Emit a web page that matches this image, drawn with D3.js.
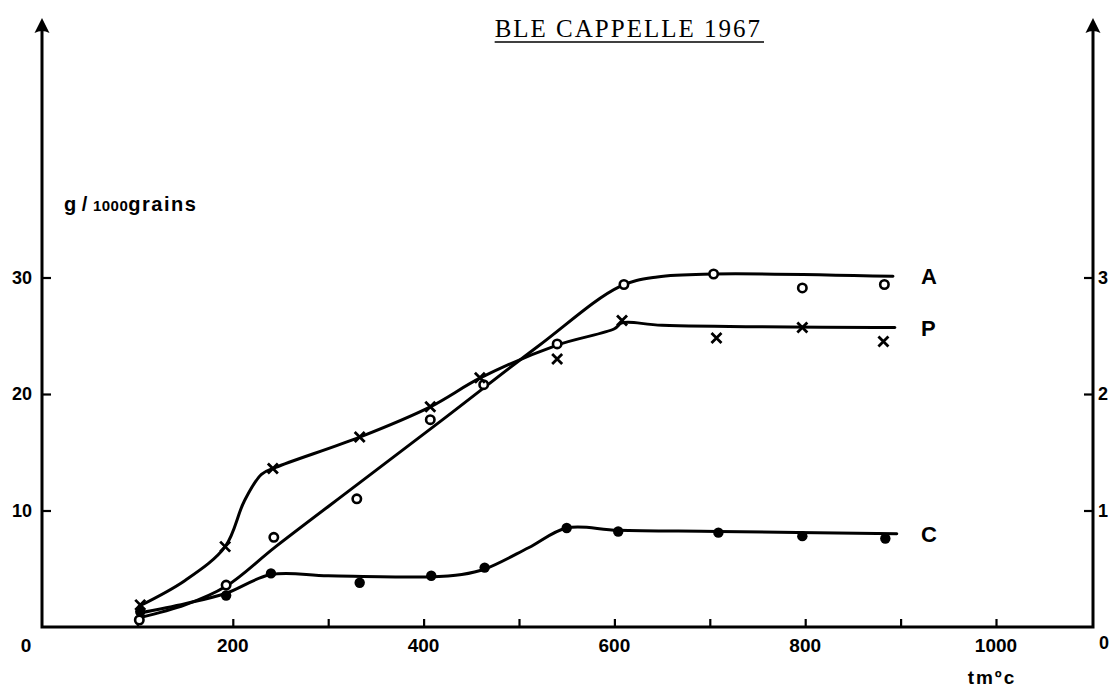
<!DOCTYPE html>
<html>
<head>
<meta charset="utf-8">
<script src="https://cdn.jsdelivr.net/npm/d3@7"></script>
<style>
  body { margin: 0; background: #fff; }
  svg { display: block; }
  .lbl { font-family: "Liberation Sans", Arial, sans-serif; font-weight: bold; fill: #000; }
</style>
</head>
<body>
<svg id="chart" width="1112" height="689"></svg>
<script>
// Axis ticks and labels
const xTicks = [100, 200, 300, 400, 500, 600, 700, 800, 900, 1000];
const xTickLabels = [200, 400, 600, 800, 1000];
const yTicksLeft = [10, 20, 30];
const yTicksRight = [1, 2, 3];

// Measured points: [sum of temperatures (tm °C), g / 1000 grains]
const obsA = [[102, 0.6], [193, 3.6], [243, 7.7], [330, 11.0], [407, 17.8], [463, 20.8], [540, 24.3], [610, 29.4], [704, 30.3], [797, 29.1], [883, 29.4]];
const obsP = [[103, 1.9], [192, 6.9], [242, 13.6], [333, 16.3], [407, 18.9], [459, 21.4], [540, 23.0], [608, 26.3], [707, 24.8], [797, 25.7], [882, 24.5]];
const obsC = [[103, 1.3], [193, 2.7], [240, 4.6], [333, 3.8], [408, 4.4], [464, 5.1], [550, 8.5], [604, 8.2], [709, 8.1], [797, 7.8], [884, 7.6]];

// Hand-fitted curves through each series
const fitA = [[102, 0.8], [150, 1.9], [193, 3.5], [245, 6.9], [330, 12.2], [420, 17.8], [520, 24.1], [605, 29.2], [645, 30.05], [704, 30.3], [892, 30.1]];
const fitP = [[102, 1.8], [150, 4.0], [192, 6.9], [212, 10.8], [230, 13.1], [245, 13.7], [333, 16.3], [407, 18.9], [460, 21.4], [540, 24.2], [600, 25.6], [608, 26.1], [650, 25.9], [894, 25.7]];
const fitC = [[102, 1.2], [150, 2.0], [193, 2.9], [240, 4.5], [300, 4.4], [405, 4.3], [440, 4.5], [465, 5.0], [510, 6.8], [550, 8.5], [604, 8.3], [709, 8.2], [896, 8.0]];

const seriesNames = ["A", "P", "C"];

const svg = d3.select("#chart");

const x = d3.scaleLinear().domain([0, 1100]).range([42, 1091.4]);
const y = d3.scaleLinear().domain([0, 30]).range([627, 277.5]);
const yR = d3.scaleLinear().domain([0, 3]).range([627, 277.5]);

const x0 = x(0), xEnd = 1093, yTop = 18;

// Axis frame: left axis, baseline, right axis
svg.append("path")
  .attr("d", `M${x0},${yTop + 10}V${y(0)}H${xEnd}V${yTop + 10}`)
  .attr("fill", "none").attr("stroke", "#000").attr("stroke-width", 3);

// Arrow heads on the two vertical axes
[x0, xEnd].forEach(ax => {
  svg.append("path")
    .attr("d", `M${ax},${yTop} L${ax + 7.5},${yTop + 15} Q${ax},${yTop + 11} ${ax - 7.5},${yTop + 15} Z`)
    .attr("fill", "#000");
});

// Bottom axis ticks (pointing up)
const xAxis = d3.axisBottom(x).tickValues(xTicks).tickSize(-8).tickFormat("");
svg.append("g").attr("transform", `translate(0,${y(0)})`).call(xAxis)
  .call(g => g.select(".domain").remove())
  .call(g => g.selectAll(".tick line").attr("stroke-width", 2.2));

svg.append("g").selectAll("text").data(xTickLabels).join("text")
  .attr("class", "lbl").attr("x", d => x(d)).attr("y", y(0) + 25)
  .attr("text-anchor", "middle").attr("font-size", 19).text(d => d);
svg.append("text").attr("class", "lbl").attr("x", 26).attr("y", y(0) + 25)
  .attr("text-anchor", "middle").attr("font-size", 19).text("0");
svg.append("text").attr("class", "lbl").attr("x", 1104).attr("y", y(0) + 22)
  .attr("text-anchor", "middle").attr("font-size", 18).text("0");

// Left axis ticks (pointing right) and labels
const yAxisL = d3.axisLeft(y).tickValues(yTicksLeft).tickSize(-9).tickFormat("");
svg.append("g").attr("transform", `translate(${x0},0)`).call(yAxisL)
  .call(g => g.select(".domain").remove())
  .call(g => g.selectAll(".tick line").attr("stroke-width", 2.2));
svg.append("g").selectAll("text").data(yTicksLeft).join("text")
  .attr("class", "lbl").attr("x", 32).attr("y", d => y(d) + 6)
  .attr("text-anchor", "end").attr("font-size", 18).text(d => d);

// Right axis ticks (pointing left) and labels
const yAxisR = d3.axisRight(yR).tickValues(yTicksRight).tickSize(-9).tickFormat("");
svg.append("g").attr("transform", `translate(${xEnd},0)`).call(yAxisR)
  .call(g => g.select(".domain").remove())
  .call(g => g.selectAll(".tick line").attr("stroke-width", 2.2));
svg.append("g").selectAll("text").data(yTicksRight).join("text")
  .attr("class", "lbl").attr("x", 1098).attr("y", d => yR(d) + 6)
  .attr("text-anchor", "start").attr("font-size", 18).text(d => d);

// Unit labels
const unit = svg.append("text").attr("class", "lbl").attr("x", 64).attr("y", 211);
unit.append("tspan").attr("font-size", 20).text("g / ");
unit.append("tspan").attr("font-size", 15).attr("letter-spacing", 0.5).text("1000");
unit.append("tspan").attr("font-size", 20).attr("letter-spacing", 1.5).text("grains");

svg.append("text").attr("class", "lbl").attr("x", 992).attr("y", 684)
  .attr("text-anchor", "middle").attr("font-size", 19).attr("letter-spacing", 2).text("tmºc");

// Title, underlined
const title = svg.append("text").attr("x", 762).attr("y", 37).attr("text-anchor", "end")
  .attr("font-family", "'Liberation Serif', 'DejaVu Serif', serif").attr("font-size", 25)
  .attr("letter-spacing", 2).attr("fill", "#000").text("BLE CAPPELLE 1967");
const tb = title.node().getBBox();
svg.append("line").attr("x1", tb.x).attr("x2", tb.x + tb.width + 2).attr("y1", 42).attr("y2", 42)
  .attr("stroke", "#000").attr("stroke-width", 1.5);

// Fitted curves
const line = d3.line().x(d => x(d[0])).y(d => y(d[1])).curve(d3.curveCatmullRom.alpha(0.5));
[fitA, fitP, fitC].forEach(f => {
  svg.append("path").datum(f).attr("d", line)
    .attr("fill", "none").attr("stroke", "#000").attr("stroke-width", 3)
    .attr("stroke-linejoin", "round").attr("stroke-linecap", "round");
});

// Markers: open circles (A), crosses (P), filled dots (C)
svg.append("g").selectAll("circle").data(obsA).join("circle")
  .attr("cx", d => x(d[0])).attr("cy", d => y(d[1])).attr("r", 4.2)
  .attr("fill", "#fff").attr("stroke", "#000").attr("stroke-width", 2.6);

svg.append("g").selectAll("path").data(obsP).join("path")
  .attr("d", d => {
    const cx = x(d[0]), cy = y(d[1]), s = 5;
    return `M${cx - s},${cy - s}L${cx + s},${cy + s}M${cx - s},${cy + s}L${cx + s},${cy - s}`;
  })
  .attr("stroke", "#000").attr("stroke-width", 2.8);

svg.append("g").selectAll("circle").data(obsC).join("circle")
  .attr("cx", d => x(d[0])).attr("cy", d => y(d[1])).attr("r", 5.2).attr("fill", "#000");

// Series names at the right end of each curve
const lastVals = [fitA, fitP, fitC].map(f => f[f.length - 1][1]);
svg.append("g").selectAll("text").data(seriesNames).join("text")
  .attr("class", "lbl").attr("x", 921).attr("y", (d, i) => y(lastVals[i]) + 8)
  .attr("font-size", 22).text(d => d);
</script>
</body>
</html>
